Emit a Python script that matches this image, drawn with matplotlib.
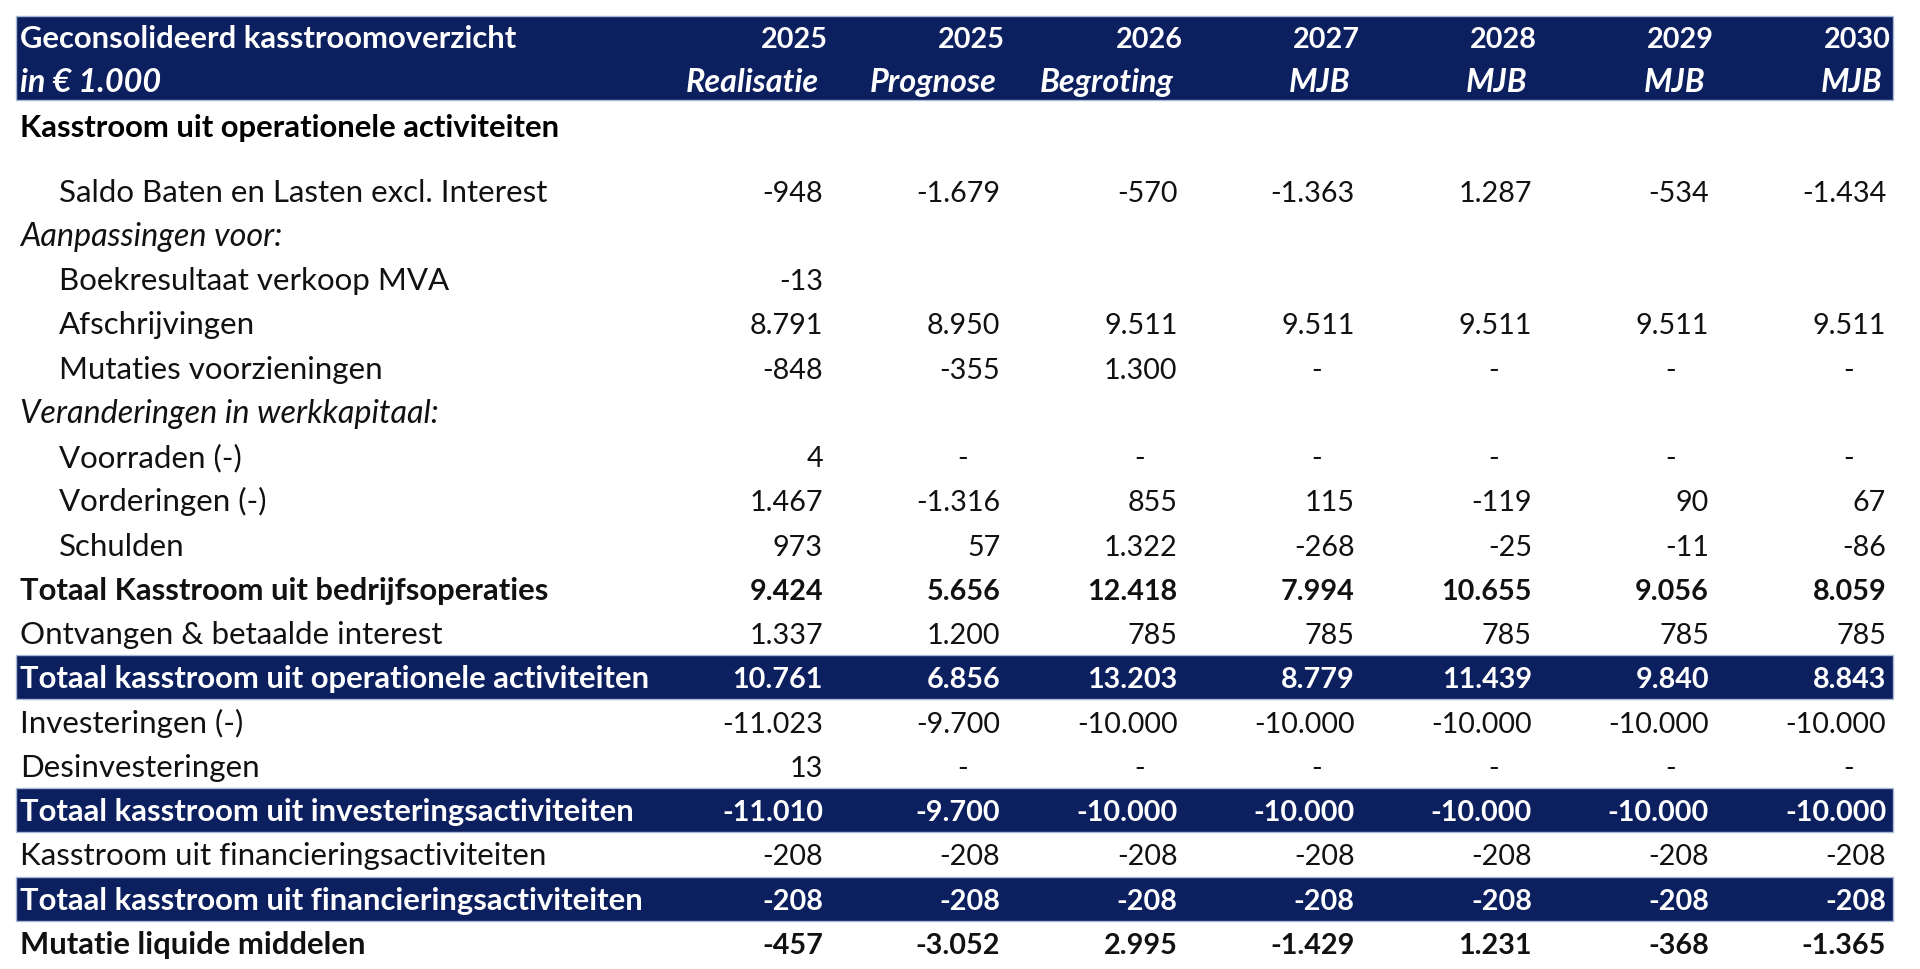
import matplotlib

matplotlib.use("Agg")
import matplotlib.pyplot as plt
from matplotlib.patches import Rectangle

# header
title = "Geconsolideerd kasstroomoverzicht"
unit = "in € 1.000"
years = ["2025", "2025", "2026", "2027", "2028", "2029", "2030"]
scenarios = ["Realisatie", "Prognose", "Begroting", "MJB", "MJB", "MJB", "MJB"]

# rows (None = empty cell, 0 = shown as "-")
saldo = [-948, -1679, -570, -1363, 1287, -534, -1434]
boekresultaat = [-13, None, None, None, None, None, None]
afschrijvingen = [8791, 8950, 9511, 9511, 9511, 9511, 9511]
voorzieningen = [-848, -355, 1300, 0, 0, 0, 0]
voorraden = [4, 0, 0, 0, 0, 0, 0]
vorderingen = [1467, -1316, 855, 115, -119, 90, 67]
schulden = [973, 57, 1322, -268, -25, -11, -86]
totaal_bedrijf = [9424, 5656, 12418, 7994, 10655, 9056, 8059]
interest = [1337, 1200, 785, 785, 785, 785, 785]
totaal_operationeel = [10761, 6856, 13203, 8779, 11439, 9840, 8843]
investeringen = [-11023, -9700, -10000, -10000, -10000, -10000, -10000]
desinvesteringen = [13, 0, 0, 0, 0, 0, 0]
totaal_investering = [-11010, -9700, -10000, -10000, -10000, -10000, -10000]
financiering = [-208, -208, -208, -208, -208, -208, -208]
totaal_financiering = [-208, -208, -208, -208, -208, -208, -208]
mutatie = [-457, -3052, 2995, -1429, 1231, -368, -1365]

# label, style, values
rows = [
    ("Saldo Baten en Lasten excl. Interest", "item", saldo),
    ("Aanpassingen voor:", "italic", None),
    ("Boekresultaat verkoop MVA", "item", boekresultaat),
    ("Afschrijvingen", "item", afschrijvingen),
    ("Mutaties voorzieningen", "item", voorzieningen),
    ("Veranderingen in werkkapitaal:", "italic", None),
    ("Voorraden (-)", "item", voorraden),
    ("Vorderingen (-)", "item", vorderingen),
    ("Schulden", "item", schulden),
    ("Totaal Kasstroom uit bedrijfsoperaties", "bold", totaal_bedrijf),
    ("Ontvangen & betaalde interest", "plain", interest),
    ("Totaal kasstroom uit operationele activiteiten", "band", totaal_operationeel),
    ("Investeringen (-)", "plain", investeringen),
    ("Desinvesteringen", "plain", desinvesteringen),
    ("Totaal kasstroom uit investeringsactiviteiten", "band", totaal_investering),
    ("Kasstroom uit financieringsactiviteiten", "plain", financiering),
    ("Totaal kasstroom uit financieringsactiviteiten", "band", totaal_financiering),
    ("Mutatie liquide middelen", "bold", mutatie),
]

NAVY = "#0c1f5f"
EDGE = "#a9b8d6"
FONT = "Lato"
FS_LABEL = 22.5
FS_BOLD = 22.3
FS_ITALIC = 23.3
FS_NUM = 20.7
BASE = 10  # baseline offset below the row centre, px


def fmt(v):
    if v is None:
        return ""
    if v == 0:
        return "-"
    s = f"{abs(v):,}".replace(",", ".")
    return "-" + s if v < 0 else s


def main():
    fig = plt.figure(figsize=(19.2, 9.7), dpi=100)
    ax = fig.add_axes([0, 0, 1, 1])
    ax.set_xlim(0, 1920)
    ax.set_ylim(970, 0)
    ax.axis("off")

    left, right = 16, 1893
    label_x, indent_x = 20, 59
    col_right0, col_step = 823, 177.2
    col_right = [col_right0 + j * col_step for j in range(len(years))]

    # header band
    ax.add_patch(Rectangle((left, 17), right - left, 84, facecolor=NAVY,
                           edgecolor=EDGE, lw=1))
    ax.text(label_x, 38 + BASE, title, color="white", fontsize=FS_BOLD,
            fontweight="bold", family=FONT, va="baseline")
    ax.text(label_x, 82 + BASE, unit, color="white", fontsize=FS_ITALIC,
            fontweight="bold", style="italic", family=FONT, va="baseline")
    for j, (yr, sc) in enumerate(zip(years, scenarios)):
        ax.text(col_right[j] + 5, 38 + BASE, yr, color="white", fontsize=FS_NUM,
                fontweight="bold", family=FONT, ha="right", va="baseline")
        ax.text(col_right[j] - 4, 82 + BASE, sc, color="white",
                fontsize=FS_ITALIC, fontweight="bold", style="italic",
                family=FONT, ha="right", va="baseline")

    ax.text(label_x, 127 + BASE, "Kasstroom uit operationele activiteiten",
            color="black", fontsize=FS_BOLD, fontweight="bold", family=FONT,
            va="baseline")

    y0, pitch = 191.5, 44.26
    for i, (label, style, vals) in enumerate(rows):
        yc = y0 + i * pitch
        color = "#111111"
        weight = "normal"
        fstyle = "normal"
        fs = FS_LABEL
        x = label_x
        if style == "item":
            x = indent_x
        elif style == "italic":
            fstyle = "italic"
            fs = FS_ITALIC
        elif style == "bold":
            weight = "bold"
            fs = FS_BOLD
        elif style == "band":
            weight = "bold"
            color = "white"
            fs = FS_BOLD
            ax.add_patch(Rectangle((left, yc - 22), right - left, 44,
                                   facecolor=NAVY, edgecolor=EDGE, lw=1))
        ax.text(x, yc + BASE, label, color=color, fontsize=fs,
                fontweight=weight, style=fstyle, family=FONT, va="baseline")
        if vals is None:
            continue
        for j, v in enumerate(vals):
            s = fmt(v)
            if s == "-":
                ax.text(col_right[j] - 38, yc + BASE, s, color=color,
                        fontsize=FS_NUM, fontweight=weight, family=FONT,
                        ha="center", va="baseline")
            elif s:
                ax.text(col_right[j], yc + BASE, s, color=color,
                        fontsize=FS_NUM, fontweight=weight, family=FONT,
                        ha="right", va="baseline")

    fig.savefig("out.png", dpi=100, facecolor="white")
    plt.close(fig)


if __name__ == "__main__":
    main()
